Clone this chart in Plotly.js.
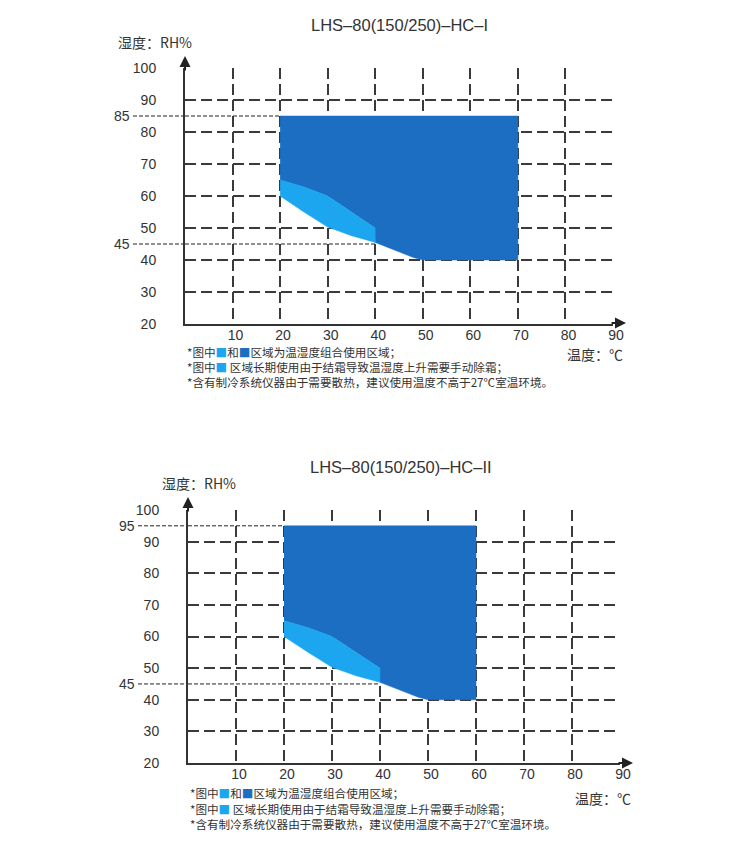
<!DOCTYPE html>
<html>
<head>
<meta charset="utf-8">
<script src="https://cdn.plot.ly/plotly-3.0.1.min.js"></script>
<style>html,body{margin:0;padding:0;background:#fff;}#chart{width:750px;height:852px;}</style>
</head>
<body>
<div id="chart"></div>
<script>
// ---- data ----
var xTicks = [10, 20, 30, 40, 50, 60, 70, 80, 90];
var yTicks = [20, 30, 40, 50, 60, 70, 80, 90, 100];

// Chart I (HC-I): dark region (usable area) and light region (frost area)
var darkX1 = [20, 70, 70, 50, 48, 45, 40, 40, 30, 25, 20];
var darkY1 = [85, 85, 40, 40, 40.8, 42.5, 45.5, 50, 60, 62.8, 65];
var lightX1 = [20, 25, 30, 40, 40, 35, 30, 25, 20];
var lightY1 = [65, 62.8, 60, 50, 45.5, 47.6, 50.3, 55, 60];

// Chart II (HC-II)
var darkX2 = [20, 60, 60, 50, 48, 45, 40, 40, 30, 25, 20];
var darkY2 = [95, 95, 40, 40, 40.8, 42.5, 45.5, 50, 60, 62.8, 65];
var lightX2 = [20, 25, 30, 40, 40, 35, 30, 25, 20];
var lightY2 = [65, 62.8, 60, 50, 45.5, 47.6, 50.3, 55, 60];

// reference lines: humidity value and the temperature where they end
var refY1 = [85, 45], refEndX1 = [20, 40];
var refY2 = [95, 45], refEndX2 = [20, 40];

var titles = ['LHS–80(150/250)–HC–I', 'LHS–80(150/250)–HC–II'];
var yLabel = '湿度：RH%';
var xLabel = '温度：℃';
var DARK = '#1b6ec2', LIGHT = '#1ba6ef';
var noteLines = [
  '*图中<span style="color:' + LIGHT + '">■</span>和<span style="color:' + DARK + '">■</span>区域为温湿度组合使用区域；',
  '*图中<span style="color:' + LIGHT + '">■</span> 区域长期使用由于结霜导致温湿度上升需要手动除霜；',
  '*含有制冷系统仪器由于需要散热，建议使用温度不高于27℃室温环境。'
];

// ---- styles ----
var LATIN = '"Liberation Sans", Arial, sans-serif';
var CJK = '"Noto Sans CJK SC", "Liberation Sans", sans-serif';
var W = 750, H = 852;
function xd(p0, p1) { return [p0 / W, p1 / W]; }
function yd(pTop, pBottom) { return [(H - pBottom) / H, (H - pTop) / H]; }

function region(x, y, color, xa, ya) {
  return {x: x, y: y, xaxis: xa, yaxis: ya, type: 'scatter', mode: 'lines',
    fill: 'toself', fillcolor: color, line: {color: color, width: 0.5},
    hoverinfo: 'skip', showlegend: false};
}

var data = [
  region(darkX1, darkY1, DARK, 'x', 'y'),
  region(lightX1, lightY1, LIGHT, 'x', 'y'),
  region(darkX2, darkY2, DARK, 'x2', 'y2'),
  region(lightX2, lightY2, LIGHT, 'x2', 'y2')
];

var GRID = {showgrid: true, gridcolor: '#3a3a3a', gridwidth: 2, griddash: '11px,5px',
  showline: true, linecolor: '#333', linewidth: 2, zeroline: false, ticks: '',
  tickfont: {family: LATIN, size: 14, color: '#333'}, fixedrange: true};
function xAxis(domain, anchor) {
  return Object.assign({domain: domain, anchor: anchor, range: [0, 90], tickvals: xTicks,
    ticktext: xTicks.map(String), ticklabelstandoff: -3, ticklabelshift: 3}, GRID);
}
function yAxis(domain, anchor) {
  return Object.assign({domain: domain, anchor: anchor, range: [20, 100], tickvals: yTicks,
    ticktext: yTicks.map(String), ticklabelstandoff: 24}, GRID);
}

var shapes = [];
function refLines(ys, ends, xa, ya, startDomain) {
  ys.forEach(function (yv, i) {
    shapes.push({type: 'line', xref: xa + ' domain', yref: ya, x0: startDomain, x1: 0,
      y0: yv, y1: yv, layer: 'below', line: {color: '#222', width: 1, dash: '4px,2px'}});
    shapes.push({type: 'line', xref: xa, yref: ya, x0: 0, x1: ends[i],
      y0: yv, y1: yv, layer: 'below', line: {color: '#222', width: 1, dash: '4px,2px'}});
  });
}
refLines(refY1, refEndX1, 'x', 'y', -0.1215);
refLines(refY2, refEndX2, 'x2', 'y2', -0.1157);

var annotations = [];
function txt(text, x, y, xanchor, size, family, yref) {
  annotations.push({text: text, x: x, y: y, xref: 'paper', yref: yref || 'paper',
    xanchor: xanchor, yanchor: 'middle', showarrow: false,
    font: {family: family, size: size, color: '#333'}});
}
function arrow(x, y, ax, ay) {
  annotations.push({text: '', x: x, y: y, xref: 'paper', yref: 'paper',
    showarrow: true, arrowhead: 2, arrowsize: 1.1, arrowwidth: 2, arrowcolor: '#222',
    ax: ax, ay: ay, standoff: 0});
}

// chart I texts
txt(titles[0], 0.532, 0.9707, 'center', 16.5, LATIN);
txt(yLabel, 0.1547, 0.9507, 'left', 14, CJK);
txt(xLabel, 0.8333, 0.5845, 'right', 14, CJK);
noteLines.forEach(function (t, i) { txt(t, 0.2467, [0.5863, 0.5692, 0.5516][i], 'left', 11.6, CJK); });
refY1.forEach(function (v) { txt(String(v), 0.162, v, 'center', 14, LATIN, 'y'); });
arrow(0.2467, 0.9343, 0, 16);
arrow(0.8347, 0.6209, -16, 0);

// chart II texts
txt(titles[1], 0.535, 0.4519, 'center', 16.5, LATIN);
txt(yLabel, 0.2133, 0.4331, 'left', 14, CJK);
txt(xLabel, 0.844, 0.0634, 'right', 14, CJK);
noteLines.forEach(function (t, i) { txt(t, 0.2513, [0.0687, 0.0505, 0.0323][i], 'left', 11.6, CJK); });
refY2.forEach(function (v) { txt(String(v), 0.1687, v, 'center', 14, LATIN, 'y2'); });
arrow(0.2507, 0.4167, 0, 16);
arrow(0.844, 0.1045, -16, 0);

var layout = {
  width: W, height: H, margin: {l: 0, r: 0, t: 0, b: 0},
  paper_bgcolor: '#fff', plot_bgcolor: '#fff', showlegend: false,
  xaxis: xAxis(xd(185, 613), 'y'),
  yaxis: yAxis(yd(68, 324), 'x'),
  xaxis2: xAxis(xd(188, 620), 'y2'),
  yaxis2: yAxis(yd(510, 763), 'x2'),
  shapes: shapes,
  annotations: annotations
};

Plotly.newPlot('chart', data, layout, {staticPlot: true, displayModeBar: false});
</script>
</body>
</html>
